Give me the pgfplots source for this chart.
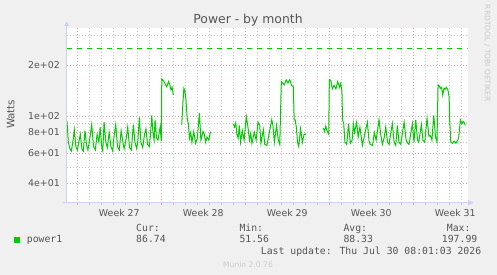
\documentclass[border=0pt]{standalone}
\usepackage{fontspec}
\setmainfont{DejaVu Sans}
\newfontfamily\monof{DejaVu Sans Mono}
\usepackage{pgfplots}
\pgfplotsset{compat=1.18}
\definecolor{bgc}{HTML}{F0F0F0}
\definecolor{mgrid}{HTML}{E6A3A3}
\definecolor{ngrid}{HTML}{C8C8C8}
\definecolor{axc}{HTML}{CCD2F2}
\definecolor{txt}{HTML}{555555}
\definecolor{lgt}{HTML}{CACACA}
\definecolor{pw}{HTML}{00CC00}
\begin{document}
\begin{tikzpicture}[x=1pt,y=1pt]
\useasboundingbox (0,0) rectangle (497,275);
\fill[bgc] (0,0) rectangle (497,275);
\begin{axis}[
  at={(67pt,72.3pt)}, anchor=south west, scale only axis,
  width=400.7pt, height=174.7pt,
  xmin=-0.86, xmax=32.53,
  ymode=log, ymin=30.7, ymax=332,
  axis line style={draw=none},
  axis background/.style={fill=white},
  xtick={3.5,10.5,17.5,24.5,31.5},
  xticklabels={Week 27,Week 28,Week 29,Week 30,Week 31},
  xtick pos=bottom, ytick pos=left,
  tick align=outside,
  major tick length=0pt, minor tick length=2pt,
  minor xtick={1,2,3,4,5,6,8,9,10,11,12,13,15,16,17,18,19,20,22,23,24,25,26,27,29,30,31,32},
  xmajorgrids=false, xminorgrids=true,
  extra x ticks={0,7,14,21,28}, extra x tick labels={},
  extra x tick style={grid=major, major tick length=2pt, tick style={mgrid}},
  ytick={40,60,80,100,200},
  yticklabels={\mbox{4e+01},\mbox{6e+01},\mbox{8e+01},\mbox{1e+02},\mbox{2e+02}},
  minor ytick={50,70,90,300},
  ymajorgrids=true, yminorgrids=true,
  major grid style={mgrid, dash pattern=on 1pt off 2pt, line width=0.7pt},
  minor grid style={ngrid, dash pattern=on 1pt off 2pt, line width=0.7pt},
  minor x tick style={ngrid},
  minor y tick style={draw=none},
  tick label style={font=\fontsize{9.4}{11}\selectfont, text=txt, inner sep=0pt},
  xticklabel style={anchor=north},
  yticklabel style={anchor=east},
  xticklabel shift=6pt,
  yticklabel shift=7pt,
  unbounded coords=jump,
]
\addplot[pw, line width=1pt, dash pattern=on 5pt off 5pt] coordinates {(-0.86,250) (32.53,250)};
\addplot[pw, line width=1pt] table[row sep=\\] {
x y\\
-0.86 93\\ -0.75 70\\ -0.62 64\\ -0.5 62\\ -0.35 72\\ -0.25 83\\ -0.12 66\\ 0.0 63\\
0.12 70\\ 0.25 78\\ 0.38 64\\ 0.5 62\\ 0.64 82\\ 0.76 68\\ 0.88 63\\ 1.0 70\\
1.2 89\\ 1.35 66\\ 1.5 63\\ 1.65 78\\ 1.8 70\\ 1.9 86\\ 2.05 64\\ 2.12 62\\
2.23 92\\ 2.38 70\\ 2.5 65\\ 2.65 80\\ 2.8 66\\ 2.95 62\\ 3.05 75\\ 3.2 89\\
3.35 66\\ 3.5 63\\ 3.65 82\\ 3.8 70\\ 3.9 64\\ 4.05 72\\ 4.2 86\\ 4.35 65\\
4.5 63\\ 4.67 89\\ 4.8 70\\ 4.95 64\\ 5.05 72\\ 5.17 98\\ 5.3 70\\ 5.45 65\\
5.6 78\\ 5.72 84\\ 5.85 68\\ 6.0 66\\ 6.1 78\\ 6.2 101\\ 6.3 80\\ 6.4 72\\
6.48 95\\ 6.6 74\\ 6.72 72\\ 6.9 86\\ 7.0 71\\ 7.04 166\\ 7.15 163\\ 7.3 156\\
7.45 149\\ 7.6 160\\ 7.7 154\\ 7.8 143\\ 7.9 148\\ 8.0 133\\ 8.05 nan\\
8.7 89\\ 8.8 120\\ 8.88 146\\ 8.95 143\\ 9.05 125\\ 9.15 98\\ 9.25 90\\ 9.35 74\\
9.45 80\\ 9.55 70\\ 9.7 81\\ 9.85 69\\ 10.0 74\\ 10.17 104\\ 10.3 72\\ 10.47 81\\
10.58 78\\ 10.69 70\\ 10.8 75\\ 10.95 72\\ 11.1 81\\ 11.15 nan\\
13.0 90\\ 13.1 86\\ 13.2 91\\ 13.3 78\\ 13.4 74\\ 13.5 88\\ 13.6 70\\ 13.75 82\\
13.9 72\\ 14.08 99\\ 14.2 88\\ 14.35 72\\ 14.45 79\\ 14.55 69\\ 14.75 80\\ 14.9 72\\
15.06 92\\ 15.2 88\\ 15.3 69\\ 15.5 83\\ 15.62 68\\ 15.8 67\\ 16.0 80\\ 16.2 95\\
16.3 88\\ 16.42 70\\ 16.6 88\\ 16.75 72\\ 16.87 68\\ 17.0 160\\ 17.1 157\\ 17.25 153\\
17.4 164\\ 17.55 157\\ 17.7 164\\ 17.85 152\\ 18.0 149\\ 18.07 95\\ 18.15 95\\ 18.25 86\\
18.35 70\\ 18.45 66\\ 18.6 84\\ 18.75 70\\ 18.9 78\\ 19.06 78\\ 19.1 nan\\
20.5 85\\ 20.6 81\\ 20.7 87\\ 20.8 82\\ 20.95 78\\ 21.0 164\\ 21.12 163\\ 21.25 145\\
21.4 152\\ 21.55 145\\ 21.7 160\\ 21.85 148\\ 21.95 156\\ 22.05 140\\ 22.1 95\\ 22.2 90\\
22.3 70\\ 22.45 68\\ 22.6 90\\ 22.75 69\\ 22.9 72\\ 23.0 90\\ 23.1 80\\ 23.28 92\\
23.4 75\\ 23.55 86\\ 23.75 67\\ 23.95 78\\ 24.17 92\\ 24.3 72\\ 24.4 68\\ 24.6 67\\
24.75 80\\ 24.9 72\\ 25.14 95\\ 25.28 78\\ 25.42 68\\ 25.58 75\\ 25.7 86\\ 25.85 70\\
25.98 68\\ 26.1 78\\ 26.25 90\\ 26.4 70\\ 26.53 67\\ 26.67 88\\ 26.8 70\\ 26.95 68\\
27.1 80\\ 27.23 92\\ 27.4 72\\ 27.55 69\\ 27.64 68\\ 27.8 80\\ 27.92 90\\ 28.05 70\\
28.2 95\\ 28.35 72\\ 28.45 70\\ 28.67 89\\ 28.8 72\\ 28.95 70\\ 29.14 97\\ 29.3 76\\
29.4 77\\ 29.55 72\\ 29.7 101\\ 29.85 75\\ 29.97 70\\ 30.06 153\\ 30.15 151\\ 30.25 146\\
30.35 148\\ 30.45 133\\ 30.55 146\\ 30.65 144\\ 30.75 148\\ 30.88 143\\ 30.98 130\\ 31.03 95\\
31.12 70\\ 31.25 69\\ 31.4 71\\ 31.55 69\\ 31.7 72\\ 31.78 75\\ 31.92 95\\ 32.05 90\\
32.15 93\\ 32.25 91\\ 32.33 88\\
};
\end{axis}
% axis arrows
\draw[axc, line width=1pt] (63.3,72.3) -- (468,72.3);
\fill[axc] (468,75) -- (473.5,72.3) -- (468,69.6) -- cycle;
\draw[axc, line width=1pt] (66.7,72.3) -- (66.7,249);
\fill[axc] (64.3,249) -- (66.7,253.5) -- (69.1,249) -- cycle;
% texts
\node[font=\fontsize{12.4}{14}\selectfont, text=txt, anchor=base, inner sep=0pt] at (248,251.5) {Power - by month};
\node[rotate=90, font=\fontsize{10.3}{12}\selectfont, text=txt, inner sep=0pt] at (10.7,160.7) {Watts};
\node[rotate=-90, font=\fontsize{7.5}{9}\selectfont, text=lgt, inner sep=0pt] at (487.3,221.7) {RRDTOOL / TOBI OETIKER};
\node[font=\fontsize{7.6}{9}\selectfont, text=lgt, inner sep=0pt] at (248,10.7) {Munin 2.0.76};
% legend
\fill[pw] (14,32.3) rectangle (20,38.3);
\begin{scope}[every node/.style={font=\monof\fontsize{9.8}{11}\selectfont, text=txt, inner sep=0pt, anchor=base west}]
\node at (26.7,32.1) {power1};
\node at (136,43.7) {Cur:};
\node at (136,32.1) {86.74};
\node at (239.3,43.7) {Min:};
\node at (239.3,32.1) {51.56};
\node at (343.3,43.7) {Avg:};
\node at (343.3,32.1) {88.33};
\node at (446.7,43.7) {Max:};
\node at (441.7,32.1) {197.99};
\node at (260.7,20.4) {Last update: Thu Jul 30 08:01:03 2026};
\end{scope}
\end{tikzpicture}
\end{document}
